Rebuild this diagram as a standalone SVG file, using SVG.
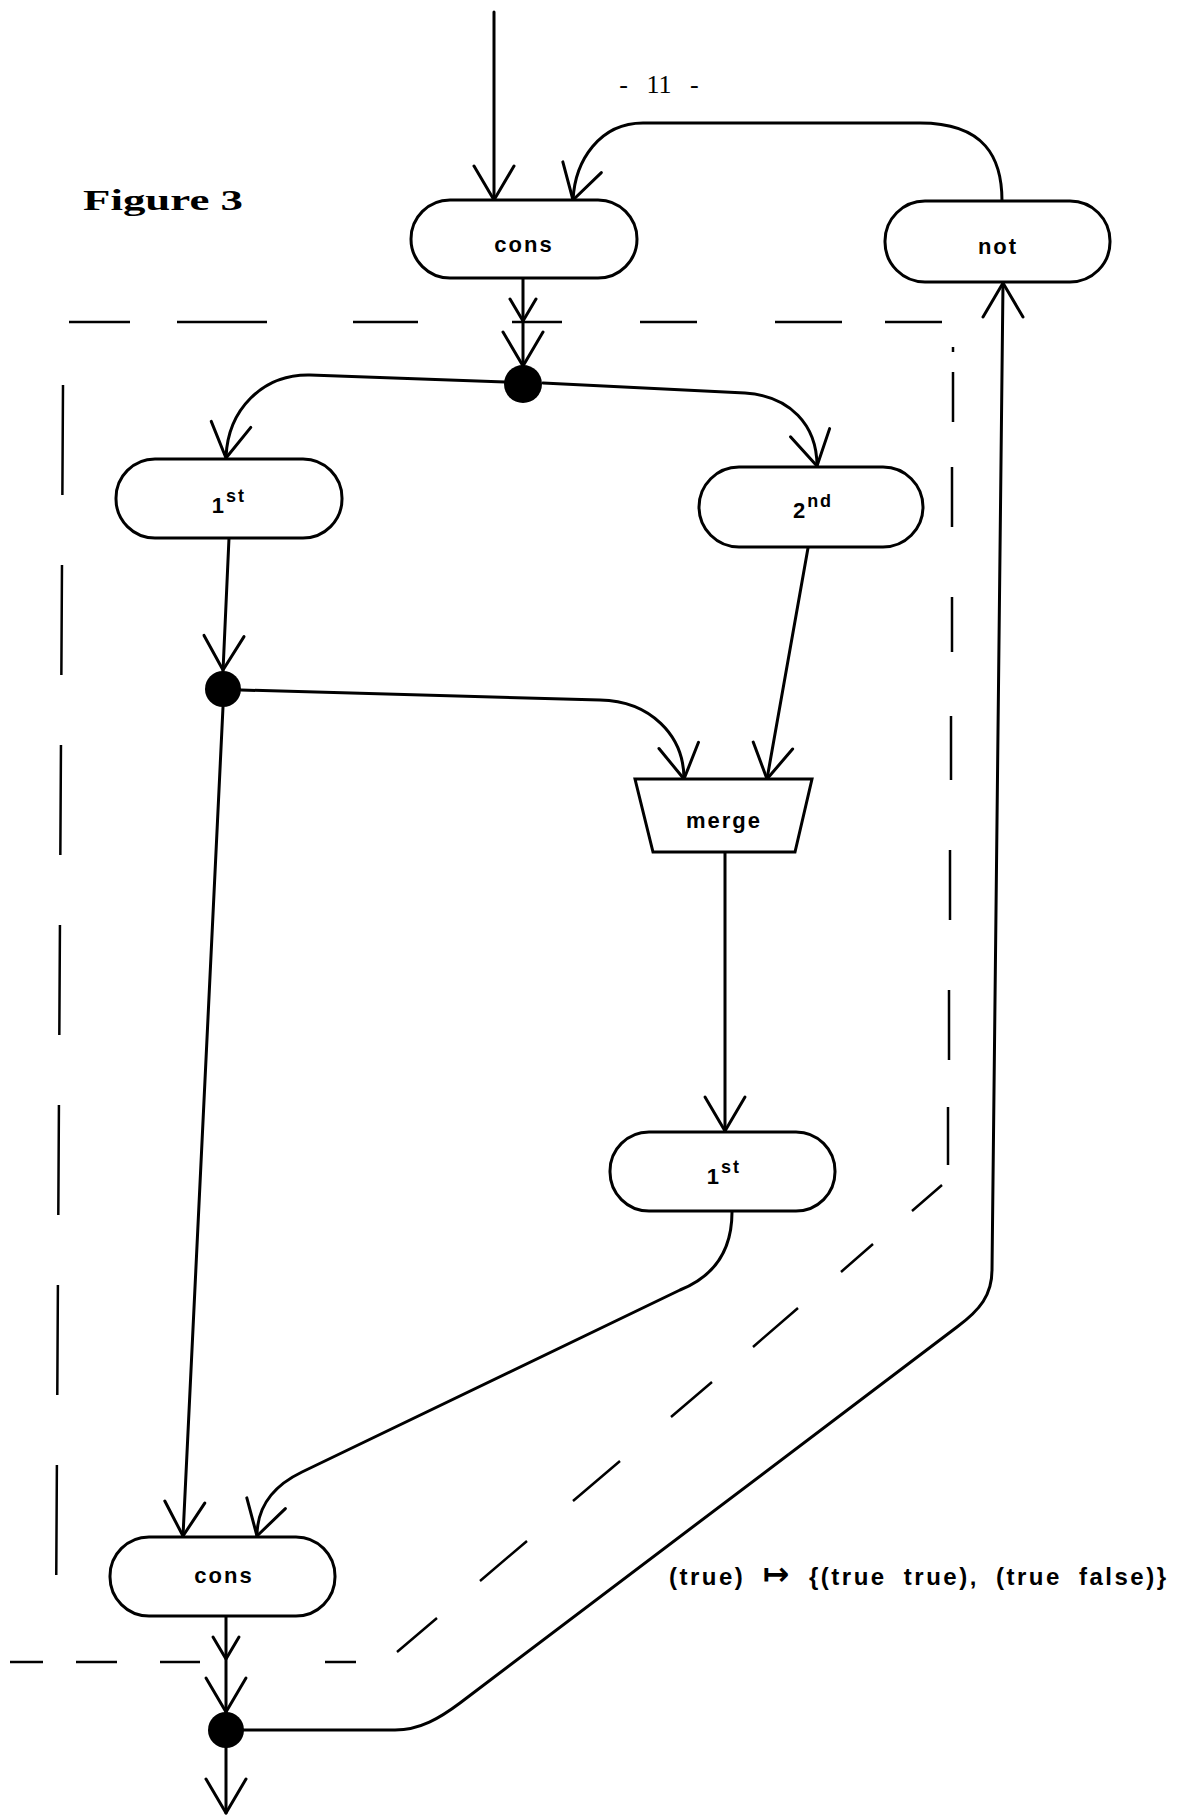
<svg xmlns="http://www.w3.org/2000/svg" xmlns:xlink="http://www.w3.org/1999/xlink" width="1181" height="1816" viewBox="0 0 1181 1816">
<style>
.ln{fill:none;stroke:#000;stroke-width:3;stroke-linecap:round;stroke-linejoin:round}
.box{fill:#fff;stroke:#000;stroke-width:3}
.dsh{fill:none;stroke:#000;stroke-width:2.5;stroke-linecap:butt}
.dot{fill:#000}
.lbl{font-family:"Liberation Sans",Arial,"DejaVu Sans",sans-serif;font-weight:bold;font-size:22px;letter-spacing:2px;text-anchor:middle;fill:#000}
.ttl{font-family:"Liberation Serif","Times New Roman",serif;font-weight:bold;fill:#000}
.note{font-family:"Liberation Sans",Arial,"DejaVu Sans",sans-serif;font-weight:bold;font-size:24px;letter-spacing:2.5px;word-spacing:8px;fill:#000}
</style>
<defs>
<path id="ah" class="ln" d="M-20,-34 L0,0 L20,-34"/>
<path id="ahs" class="ln" d="M-13,-22 L0,0 L13,-22"/>
</defs>
<rect width="1181" height="1816" fill="#fff"/>

<g id="page-text">
<text class="ttl" x="83" y="210" font-size="30" textLength="160" lengthAdjust="spacingAndGlyphs">Figure 3</text>
<text x="659" y="93" font-family="'Liberation Serif','Times New Roman',serif" font-size="26" word-spacing="12" text-anchor="middle">- 11 -</text>
<text class="note" x="669" y="1585">(true) <tspan font-family="'DejaVu Sans',sans-serif" font-size="32">↦</tspan> {(true true), (true false)}</text>
</g>

<g id="boundary">
<path class="dsh" d="M69,322H130 M177,322H267 M353,322H418 M512,322H562 M640,322H697 M775,322H842 M885,322H942"/>
<path class="dsh" d="M953,347V352 M953,372V422 M952,467V527 M952,597V652 M951,716V780 M950,850V920 M949,990V1060 M948,1107V1165"/>
<path class="dsh" d="M942,1185L912,1211 M873,1244L841,1272 M798,1308L753,1347 M712,1382L671,1417 M620,1461L573,1501 M527,1541L480,1581 M437,1618L397,1652"/>
<path class="dsh" d="M10,1662H43 M76,1662H117 M160,1662H200 M325,1662H356"/>
<path class="dsh" d="M63,385L56,1622" stroke-dasharray="110 70"/>
</g>

<g id="connectors">
<path class="ln" d="M494,12V200"/>
<use xlink:href="#ah" href="#ah" transform="translate(494,200)"/>
<path class="ln" d="M1002,201C1002,158 985,123 920,123L643,123C600,123 575,160 573,200"/>
<use xlink:href="#ah" href="#ah" transform="translate(573,200) rotate(15.5)"/>
<path class="ln" d="M523,279V370"/>
<use xlink:href="#ahs" href="#ahs" transform="translate(523,321)"/>
<use xlink:href="#ah" href="#ah" transform="translate(523,366)"/>
<path class="ln" d="M505,382L310,375C262,374 228,410 226,457"/>
<use xlink:href="#ah" href="#ah" transform="translate(226,458) rotate(8.5)"/>
<path class="ln" d="M543,383L745,393C790,396 817,425 817,466"/>
<use xlink:href="#ah" href="#ah" transform="translate(817,466) rotate(-11.8)"/>
<path class="ln" d="M229,538L223,671"/>
<use xlink:href="#ah" href="#ah" transform="translate(223,670) rotate(1.7)"/>
<path class="ln" d="M241,690L600,700C650,701 684,735 684,779"/>
<use xlink:href="#ah" href="#ah" transform="translate(684,779) rotate(-8.9)"/>
<path class="ln" d="M808,548L767,779"/>
<use xlink:href="#ah" href="#ah" transform="translate(767,779) rotate(10)"/>
<path class="ln" d="M725,853V1131"/>
<use xlink:href="#ah" href="#ah" transform="translate(725,1131)"/>
<path class="ln" d="M732,1212C732,1260 705,1280 680,1290L302,1472C275,1485 257,1505 257,1536"/>
<use xlink:href="#ah" href="#ah" transform="translate(257,1536) rotate(15.5)"/>
<path class="ln" d="M223,707L183,1536"/>
<use xlink:href="#ah" href="#ah" transform="translate(183,1536) rotate(3)"/>
<path class="ln" d="M226,1617V1713"/>
<use xlink:href="#ahs" href="#ahs" transform="translate(226,1659)"/>
<use xlink:href="#ah" href="#ah" transform="translate(226,1712)"/>
<path class="ln" d="M226,1747V1813"/>
<use xlink:href="#ah" href="#ah" transform="translate(226,1813)"/>
<path class="ln" d="M243,1730L395,1730C420,1730 440,1718 460,1703L957,1327C980,1310 992,1295 992,1270L1003,283"/>
<use xlink:href="#ah" href="#ah" transform="translate(1003,283) rotate(180)"/>
</g>

<g id="cons-top">
<rect class="box" x="411" y="200" width="226" height="78" rx="39"/>
<text class="lbl" x="524" y="252">cons</text>
</g>
<g id="not">
<rect class="box" x="885" y="201" width="225" height="81" rx="40"/>
<text class="lbl" x="998" y="254">not</text>
</g>
<g id="split-top"><circle class="dot" cx="523" cy="384" r="19"/></g>
<g id="first-left">
<rect class="box" x="116" y="459" width="226" height="79" rx="39"/>
<text class="lbl" x="229" y="513">1<tspan dy="-11" font-size="18">st</tspan></text>
</g>
<g id="second">
<rect class="box" x="699" y="467" width="224" height="80" rx="40"/>
<text class="lbl" x="813" y="518">2<tspan dy="-11" font-size="18">nd</tspan></text>
</g>
<g id="split-mid"><circle class="dot" cx="223" cy="689" r="18"/></g>
<g id="merge">
<path class="box" d="M635,779H812L795,852H653Z"/>
<text class="lbl" x="724" y="828">merge</text>
</g>
<g id="first-right">
<rect class="box" x="610" y="1132" width="225" height="79" rx="39"/>
<text class="lbl" x="724" y="1184">1<tspan dy="-11" font-size="18">st</tspan></text>
</g>
<g id="cons-bottom">
<rect class="box" x="110" y="1537" width="225" height="79" rx="39"/>
<text class="lbl" x="224" y="1583">cons</text>
</g>
<g id="split-bottom"><circle class="dot" cx="226" cy="1730" r="18"/></g>
</svg>
